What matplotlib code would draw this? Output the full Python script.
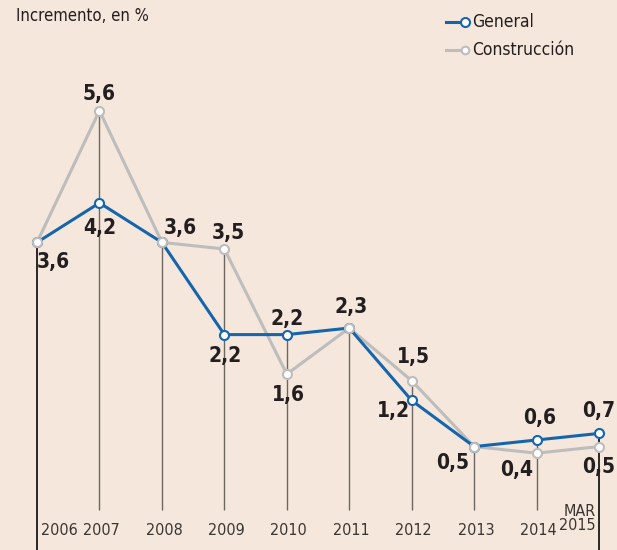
import matplotlib.pyplot as plt
from matplotlib.lines import Line2D

plt.rcParams['font.family'] = ['DejaVu Sans']
plt.rcParams['font.stretch'] = 'condensed'

years = ['2006', '2007', '2008', '2009', '2010', '2011', '2012', '2013', '2014', 'MAR\n2015']
general = [3.6, 4.2, 3.6, 2.2, 2.2, 2.3, 1.2, 0.5, 0.6, 0.7]
construccion = [3.6, 5.6, 3.6, 3.5, 1.6, 2.3, 1.5, 0.5, 0.4, 0.5]

bg = '#f5e7db'
blue = '#1565ac'
grey = '#bdbdbd'
dark = '#231f20'

W, H = 617, 550
fig = plt.figure(figsize=(W / 100, H / 100), dpi=100, facecolor=bg)
ax = fig.add_axes([0, 0, 1, 1])
ax.set_facecolor(bg)
ax.set_xlim(-0.593, 9.288)
ax.set_ylim(-1.07, 7.28)
ax.axis('off')

x = list(range(len(years)))
sc = 65.8   # px per unit on y
sx = 62.44  # px per year on x

# vertical guide lines
for i in x:
    top = max(general[i], construccion[i])
    if i == 0 or i == len(x) - 1:
        ax.vlines(i, -1.2, top, color='#1a1a1a', lw=1.3, zorder=1)
    else:
        ax.vlines(i, -0.47, top, color='#6e6660', lw=1.0, zorder=1)

ax.plot(x, construccion, color=grey, lw=2.2, zorder=2)
ax.plot(x, general, color=blue, lw=2.2, zorder=3)
ax.plot(x, general, ls='none', marker='o', ms=6.5, mfc='white', mec=blue, mew=1.5, zorder=4)
ax.plot(x, construccion, ls='none', marker='o', ms=6.5, mfc='white', mec=grey, mew=1.5, zorder=5)

# value labels: (x, value, dx px, dy px, ha)
labels = [
    (0, general[0], 0, -20, 'left'),
    (1, construccion[1], 0, 17, 'center'),
    (1, general[1], 0, -25, 'center'),
    (2, general[2], 2, 14, 'left'),
    (3, construccion[3], 4, 16, 'center'),
    (3, general[3], 1, -21, 'center'),
    (4, general[4], 0, 16, 'center'),
    (4, construccion[4], 2, -21, 'center'),
    (5, general[5], 2, 21, 'center'),
    (6, construccion[6], 2, 24, 'center'),
    (6, general[6], -2, -11, 'right'),
    (7, general[7], -5, -16, 'right'),
    (8, construccion[8], -3, -17, 'right'),
    (8, general[8], 3, 22, 'center'),
    (9, general[9], 16, 22, 'right'),
    (9, construccion[9], 16, -20, 'right'),
]
for xi, v, dx, dy, ha in labels:
    ax.text(xi + dx / sx, v + dy / sc, f'{v:.1f}'.replace('.', ','),
            ha=ha, va='center', fontsize=15, fontweight='bold', color=dark, zorder=6)

# year labels
for i, lab in enumerate(years):
    if i == 0:
        ax.text(i + 4 / sx, -51 / sc, lab, ha='left', va='center', fontsize=11.5, color='#3a3634')
    elif i == len(years) - 1:
        ax.text(i - 3 / sx, -39 / sc, lab, ha='right', va='center', fontsize=11.5,
                color='#3a3634', linespacing=0.95)
    else:
        ax.text(i + 2 / sx, -51 / sc, lab, ha='center', va='center', fontsize=11.5, color='#3a3634')

# title
fig.text(16 / W, 1 - 16 / H, 'Incremento, en %', ha='left', va='center', fontsize=12, color=dark)


# legend
def px(xp, yp):
    return xp / W, 1 - yp / H


for yy, col, name, mk in [(22, blue, 'General', 6.5), (50, grey, 'Construcción', 5.5)]:
    x0, y0 = px(446, yy)
    x1, y1 = px(465, yy)
    fig.add_artist(Line2D([x0, x1], [y0, y1], color=col, lw=2.2, transform=fig.transFigure))
    fig.add_artist(Line2D([x1], [y1], marker='o', ms=mk, mfc='white', mec=col, mew=1.5,
                          transform=fig.transFigure))
    tx, ty = px(472, yy)
    fig.text(tx, ty, name, ha='left', va='center', fontsize=12.5, color=dark)

fig.savefig('out.png', dpi=100, facecolor=bg)
